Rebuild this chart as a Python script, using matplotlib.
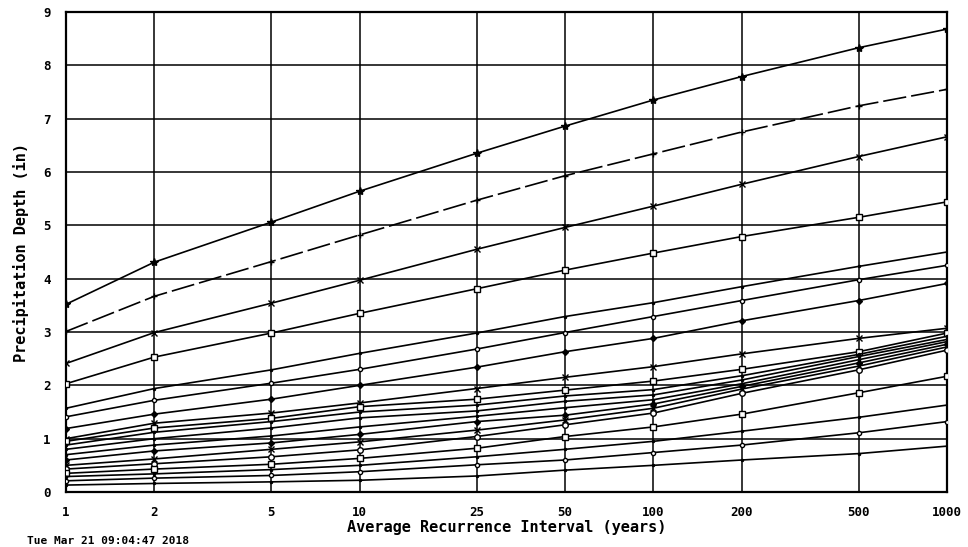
import matplotlib
matplotlib.use("Agg")
import matplotlib.pyplot as plt
from matplotlib.ticker import FixedLocator, NullLocator

# Average recurrence intervals (years)
intervals = [1, 2, 5, 10, 25, 50, 100, 200, 500, 1000]
interval_labels = ["1", "2", "5", "10", "25", "50", "100", "200", "500", "1000"]

# Precipitation depth (in) per duration
d60day = [3.52, 4.31, 5.06, 5.64, 6.35, 6.86, 7.35, 7.79, 8.33, 8.68]
d45day = [3.01, 3.67, 4.32, 4.82, 5.47, 5.93, 6.34, 6.75, 7.24, 7.55]
d30day = [2.41, 2.99, 3.54, 3.97, 4.55, 4.96, 5.36, 5.77, 6.29, 6.66]
d20day = [2.03, 2.53, 2.98, 3.35, 3.81, 4.16, 4.48, 4.79, 5.15, 5.44]
d10day = [1.57, 1.94, 2.29, 2.60, 2.98, 3.29, 3.55, 3.85, 4.23, 4.50]
d7day = [1.41, 1.72, 2.04, 2.30, 2.68, 2.99, 3.29, 3.59, 3.98, 4.25]
d4day = [1.19, 1.46, 1.74, 2.00, 2.34, 2.63, 2.88, 3.21, 3.59, 3.91]
d3day = [1.00, 1.29, 1.48, 1.67, 1.94, 2.15, 2.35, 2.59, 2.88, 3.07]
d2day = [0.95, 1.20, 1.38, 1.60, 1.74, 1.91, 2.08, 2.30, 2.63, 2.98]
d24hr = [0.88, 1.12, 1.32, 1.50, 1.63, 1.80, 1.92, 2.18, 2.58, 2.92]
d12hr = [0.80, 1.00, 1.20, 1.39, 1.52, 1.70, 1.82, 2.10, 2.54, 2.86]
d6hr = [0.70, 0.88, 1.05, 1.22, 1.42, 1.58, 1.73, 2.03, 2.48, 2.82]
d3hr = [0.60, 0.77, 0.92, 1.08, 1.32, 1.44, 1.65, 1.98, 2.42, 2.77]
d2hr = [0.50, 0.62, 0.80, 0.94, 1.16, 1.35, 1.57, 1.93, 2.36, 2.72]
d60min = [0.43, 0.53, 0.66, 0.79, 1.04, 1.26, 1.48, 1.85, 2.29, 2.66]
d30min = [0.35, 0.43, 0.52, 0.63, 0.82, 1.04, 1.22, 1.46, 1.86, 2.17]
d15min = [0.29, 0.34, 0.42, 0.50, 0.66, 0.80, 0.95, 1.14, 1.40, 1.63]
d10min = [0.21, 0.26, 0.31, 0.38, 0.51, 0.60, 0.74, 0.88, 1.11, 1.32]
d5min = [0.13, 0.16, 0.19, 0.22, 0.30, 0.41, 0.50, 0.60, 0.72, 0.86]

series = [
    (d60day, "*", 6, "-"),
    (d45day, "+", 5, (0, (14, 3))),
    (d30day, "x", 5, "-"),
    (d20day, "s", 5, "-"),
    (d10day, ".", 3, "-"),
    (d7day, "o", 3, "-"),
    (d4day, "D", 3, "-"),
    (d3day, "x", 5, "-"),
    (d2day, "s", 5, "-"),
    (d24hr, ".", 3, "-"),
    (d12hr, ".", 3, "-"),
    (d6hr, ".", 3, "-"),
    (d3hr, "D", 3, "-"),
    (d2hr, "x", 5, "-"),
    (d60min, "o", 4, "-"),
    (d30min, "s", 5, "-"),
    (d15min, ".", 3, "-"),
    (d10min, "o", 3, "-"),
    (d5min, ".", 3, "-"),
]

mono = {"family": "DejaVu Sans Mono", "weight": "bold"}

fig = plt.figure(figsize=(9.68, 5.47), dpi=100)
ax = fig.add_axes([66 / 968, 1 - 492 / 547, (947 - 66) / 968, (492 - 12) / 547])

for vals, mk, ms, ls in series:
    filled = mk not in ("s", "o")
    ax.plot(intervals, vals, color="black", linewidth=1.2, linestyle=ls,
            marker=mk, markersize=ms, markeredgewidth=1.0,
            markerfacecolor="black" if filled else "white",
            markeredgecolor="black", zorder=3)

ax.set_xscale("log")
ax.set_xlim(1, 1000)
ax.set_ylim(0, 9)
ax.xaxis.set_major_locator(FixedLocator(intervals))
ax.xaxis.set_minor_locator(NullLocator())
ax.set_xticklabels(interval_labels, fontdict=mono, fontsize=9)
ax.set_yticks(range(0, 10))
ax.set_yticklabels([str(v) for v in range(0, 10)], fontdict=mono, fontsize=9)
ax.tick_params(axis="both", length=0)
ax.tick_params(axis="x", pad=10)
ax.tick_params(axis="y", pad=11)

ax.grid(True, which="major", color="black", linewidth=1.1)
for side in ax.spines.values():
    side.set_linewidth(1.6)
    side.set_color("black")

ax.set_xlabel("Average Recurrence Interval (years)", fontdict=mono, fontsize=11, labelpad=1)
ax.set_ylabel("Precipitation Depth (in)", fontdict=mono, fontsize=11, labelpad=10)

fig.text(27 / 968, 1 - 546 / 547, "Tue Mar 21 09:04:47 2018", fontdict=mono,
         fontsize=8, ha="left", va="bottom")

fig.savefig("out.png", dpi=100, facecolor="white")
